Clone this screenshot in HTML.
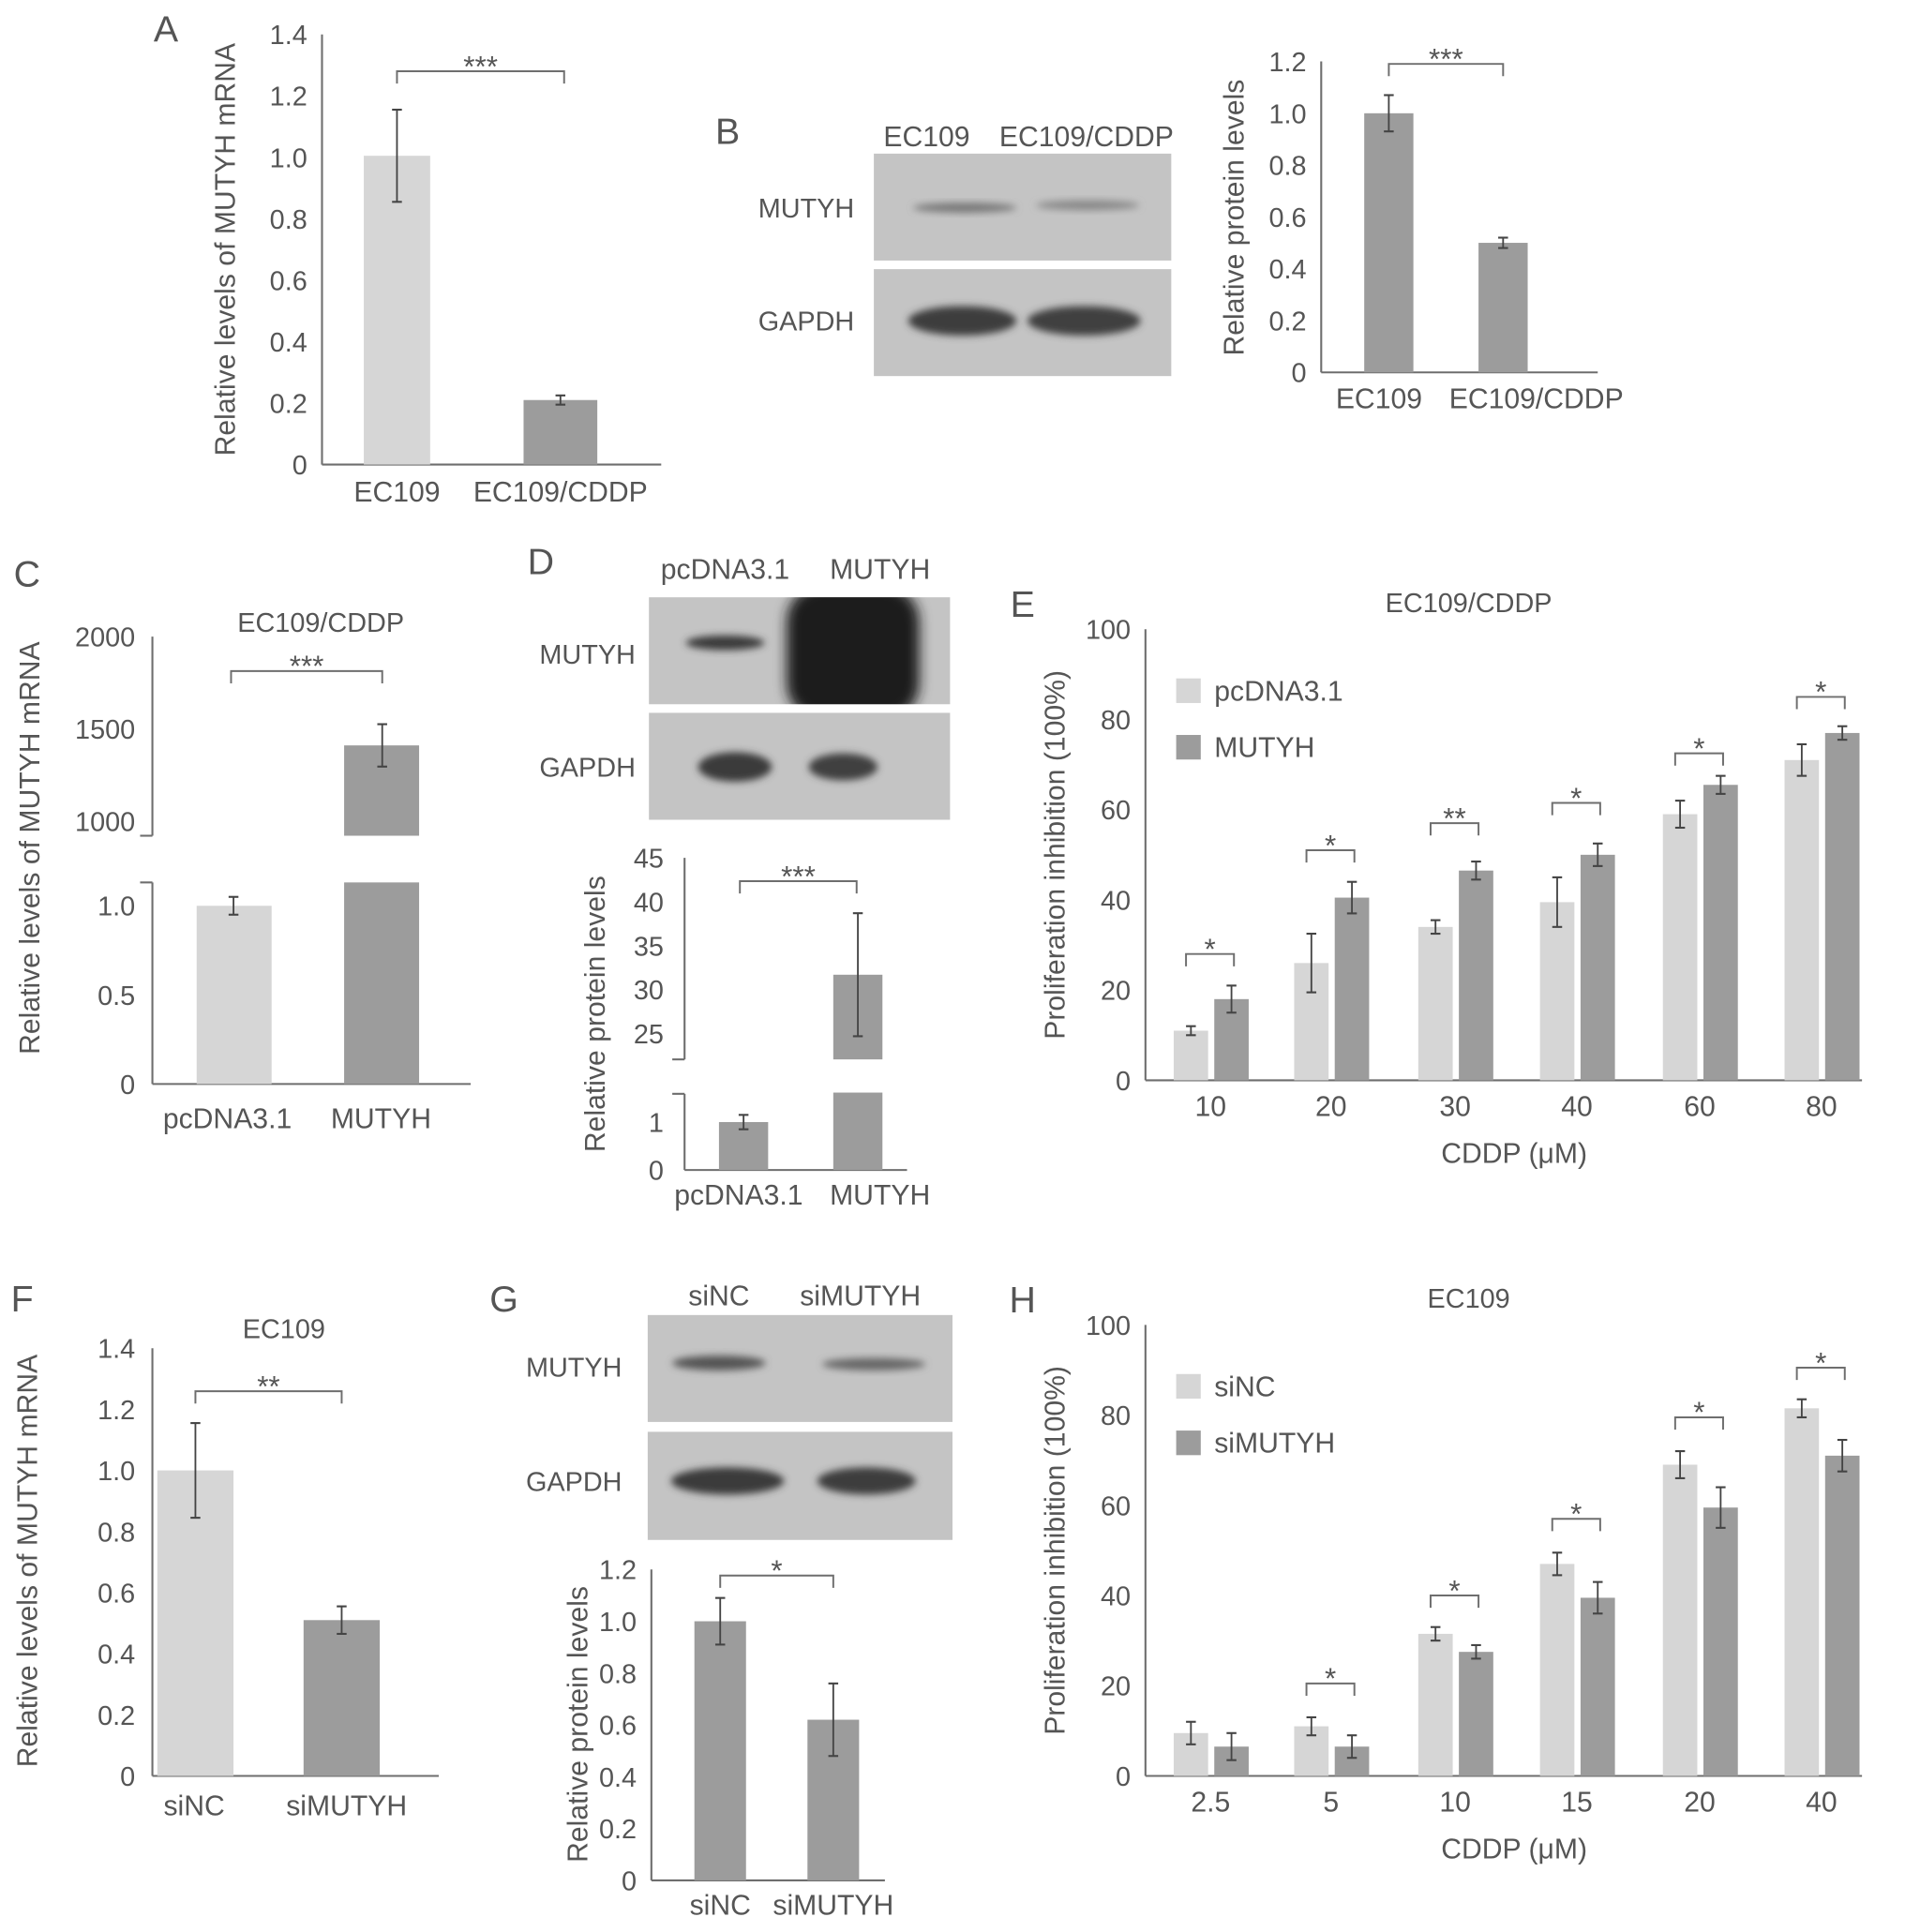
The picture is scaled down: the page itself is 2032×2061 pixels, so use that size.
<!DOCTYPE html>
<html><head><meta charset="utf-8"><style>
html,body{margin:0;padding:0;background:#fff;}
svg{display:block;}
text{font-family:"Liberation Sans",sans-serif;fill:#555;}
</style></head><body>
<svg id="fig" width="2032" height="2061" viewBox="0 0 1550 1572" preserveAspectRatio="none" xmlns="http://www.w3.org/2000/svg">
<defs>
<filter id="blur3" x="-20%" y="-50%" width="140%" height="200%"><feGaussianBlur stdDeviation="3"/></filter>
<filter id="blur6" x="-20%" y="-50%" width="140%" height="200%"><feGaussianBlur stdDeviation="5"/></filter>
<clipPath id="dclip"><rect x="528" y="486" width="245" height="87"/></clipPath>
</defs>
</svg>
<script>
// ---------- DATA ----------
const aCats=["EC109","EC109/CDDP"];
const aVals=[1.005,0.21];
const aErrs=[0.15,0.015];
const bCats=["EC109","EC109/CDDP"];
const bVals=[1.0,0.5];
const bErrs=[0.07,0.02];
const cCats=["pcDNA3.1","MUTYH"];
const cVals=[1.0,1410];
const cErrs=[0.05,115];
const dCats=["pcDNA3.1","MUTYH"];
const dVals=[1.0,31.7];
const dErrs=[0.15,7];
const eCats=["10","20","30","40","60","80"];
const eLight=[11,26,34,39.5,59,71];
const eLightErr=[1,6.5,1.5,5.5,3,3.5];
const eDark=[18,40.5,46.5,50,65.5,77];
const eDarkErr=[3,3.5,2,2.5,2,1.5];
const eSig=["*","*","**","*","*","*"];
const eSigLevel=[28,51,57,61.5,72.5,85];
const fCats=["siNC","siMUTYH"];
const fVals=[1.0,0.51];
const fErrs=[0.155,0.045];
const gCats=["siNC","siMUTYH"];
const gVals=[1.0,0.62];
const gErrs=[0.09,0.14];
const hCats=["2.5","5","10","15","20","40"];
const hLight=[9.5,11,31.5,47,69,81.5];
const hLightErr=[2.5,2,1.5,2.5,3,2];
const hDark=[6.5,6.5,27.5,39.5,59.5,71];
const hDarkErr=[3,2.5,1.5,3.5,4.5,3.5];
const hSig=["","*","*","*","*","*"];
const hSigLevel=[0,20.5,40,57,79.5,90.5];
const ticks14=[0,0.2,0.4,0.6,0.8,1.0,1.2,1.4];
const ticks12=[0,0.2,0.4,0.6,0.8,1.0,1.2];
const ticks100=[0,20,40,60,80,100];

// ---------- HELPERS ----------
const svg=document.getElementById('fig');
const NS='http://www.w3.org/2000/svg';
const LIGHT='#d6d6d6', DARK='#9c9c9c', AX='#6e6e6e';
function mk(tag,attrs,parent){const e=document.createElementNS(NS,tag);for(const k in attrs)e.setAttribute(k,attrs[k]);(parent||svg).appendChild(e);return e;}
function txt(x,y,s,size,anchor,parent,rot){const t=mk('text',{x:x,y:y,'font-size':size,'text-anchor':anchor||'middle'},parent);if(rot)t.setAttribute('transform','rotate(-90 '+x+' '+y+')');t.textContent=s;return t;}
function line(x1,y1,x2,y2,parent,w,c){return mk('line',{x1:x1,y1:y1,x2:x2,y2:y2,stroke:c||AX,'stroke-width':w||1.6},parent);}
function lin(d0,d1,r0,r1){return v=>r0+(v-d0)*(r1-r0)/(d1-d0);}
function errbar(x,yTop,yBot,g){const e=mk('g',{},g);
 line(x,yTop,x,yBot,e,1.4,'#444');line(x-4,yTop,x+4,yTop,e,1.6,'#444');line(x-4,yBot,x+4,yBot,e,1.6,'#444');return e;}
function bracket(x1,x2,y,label,g){const b=mk('g',{},g);
 mk('path',{d:'M'+x1+' '+(y+10)+'V'+y+'H'+x2+'V'+(y+10),fill:'none',stroke:AX,'stroke-width':1.5},b);
 txt((x1+x2)/2,y+4,label,24,'middle',b);return b;}
function group(name){const g=mk('g',{});return g;}

// ---------- PANEL A ----------
(function(){
 const g=group('panel-a');
 const y=lin(0,1.4,378,28);
 const lt=txt(135,34,'A',30,'middle',g);
 line(262,28,262,378,g);line(262,378,538,378,g);
 ticks14.forEach(v=>{const t=txt(250,y(v)+8,v===0?'0':v.toFixed(1),22,'end',g);});
 const xs=[323,456],w=[54,60],cols=[LIGHT,DARK];
 aVals.forEach((v,i)=>{const r=mk('rect',{x:xs[i]-w[i]/2,y:y(v),width:w[i],height:378-y(v),fill:cols[i]},g);
  
  errbar(xs[i],y(v+aErrs[i]),y(v-aErrs[i]),g);
  const t=txt(xs[i],408,aCats[i],23,'middle',g);});
 bracket(323,459,58,'***',g);
 const yt=txt(191,203,'Relative levels of MUTYH mRNA',23,'middle',g,true);
})();

// ---------- BLOT HELPER ----------
function blot(x,y,w,h,bands,g){const b=mk('g',{},g);
 mk('rect',{x:x,y:y,width:w,height:h,fill:'#c4c4c4'},b);
 bands.forEach(d=>mk('ellipse',{cx:d[0],cy:d[1],rx:d[2],ry:d[3],fill:d[4],filter:d[5]||'url(#blur3)'},b));
 return b;}

// ---------- PANEL B ----------
(function(){
 const g=group('panel-b');
 const l=txt(592,117,'B',30,'middle',g);
 let t=txt(754,119,'EC109',23,'middle',g);
 t=txt(884,119,'EC109/CDDP',23,'middle',g);
 t=txt(656,177,'MUTYH',22,'middle',g);
 t=txt(656,269,'GAPDH',22,'middle',g);
 let bl=blot(711,125,242,87,[[785,169,42,4,'#777'],[885,167,42,4,'#888']],g);
 bl=blot(711,219,242,87,[[783,261,44,12,'#3c3c3c'],[882,261,46,12,'#404040']],g);
 const y=lin(0,1.2,303,50);
 line(1075,50,1075,303,g);line(1075,303,1300,303,g);
 ticks12.forEach(v=>{const t=txt(1063,y(v)+8,v===0?'0':v.toFixed(1),22,'end',g);});
 const xs=[1130,1223];
 bVals.forEach((v,i)=>{const r=mk('rect',{x:xs[i]-20,y:y(v),width:40,height:303-y(v),fill:DARK},g);
  
  errbar(xs[i],y(v+bErrs[i]),y(v-bErrs[i]),g);});
 t=txt(1122,332,bCats[0],23,'middle',g);
 t=txt(1250,332,bCats[1],23,'middle',g);
 bracket(1130,1223,52,'***',g);
 t=txt(1012,177,'Relative protein levels',23,'middle',g,true);
})();

// ---------- PANEL C ----------
(function(){
 const g=group('panel-c');
 let t=txt(22,477,'C',30,'middle',g);
 t=txt(261,514,'EC109/CDDP',22,'middle',g);
 const yl=lin(0,1,882,737), yu=lin(1000,2000,668,518);
 line(124,518,124,680,g);line(124,718,124,882,g);line(124,882,383,882,g);
 line(114,680,124,680,g);line(114,718,124,718,g);
 [[2000,yu],[1500,yu],[1000,yu]].forEach(a=>{const t=txt(110,a[1](a[0])+8,String(a[0]),22,'end',g);});
 [0,0.5,1.0].forEach(v=>{const t=txt(110,yl(v)+8,v===0?'0':v.toFixed(1),22,'end',g);});
 let r=mk('rect',{x:160,y:yl(cVals[0]),width:61,height:882-yl(cVals[0]),fill:LIGHT},g);
 errbar(190,yl(cVals[0]+cErrs[0]),yl(cVals[0]-cErrs[0]),g);
 r=mk('rect',{x:280,y:718,width:61,height:164,fill:DARK},g);
 r=mk('rect',{x:280,y:yu(cVals[1]),width:61,height:680-yu(cVals[1]),fill:DARK},g);
 errbar(311,yu(cVals[1]+cErrs[1]),yu(cVals[1]-cErrs[1]),g);
 bracket(188,311,546,'***',g);
 t=txt(185,918,cCats[0],23,'middle',g);
 t=txt(310,918,cCats[1],23,'middle',g);
 t=txt(32,690,'Relative levels of MUTYH mRNA',23,'middle',g,true);
})();

// ---------- PANEL D ----------
(function(){
 const g=group('panel-d');
 let t=txt(440,467,'D',30,'middle',g);
 t=txt(590,471,'pcDNA3.1',23,'middle',g);
 t=txt(716,471,'MUTYH',23,'middle',g);
 t=txt(478,540,'MUTYH',22,'middle',g);
 t=txt(478,632,'GAPDH',22,'middle',g);
 let bl=blot(528,486,245,87,[[590,523,32,6,'#3a3a3a']],g);
 const blob=mk('g',{'clip-path':'url(#dclip)'},bl);
 mk('rect',{x:640,y:476,width:108,height:110,rx:30,fill:'#1c1c1c',filter:'url(#blur6)'},blob);
 bl=blot(528,580,245,87,[[598,624,30,12,'#3a3a3a'],[686,624,28,11,'#404040']],g);
 const yl=lin(0,1,952,913), yu=lin(25,45,841,698);
 line(557,698,557,862,g);line(557,890,557,952,g);line(557,952,738,952,g);
 line(547,862,557,862,g);line(547,890,557,890,g);
 [25,30,35,40,45].forEach(v=>{const t=txt(540,yu(v)+8,String(v),22,'end',g);});
 [0,1].forEach(v=>{const t=txt(540,yl(v)+8,String(v),22,'end',g);});
 let r=mk('rect',{x:585,y:yl(dVals[0]),width:40,height:952-yl(dVals[0]),fill:DARK},g);
 errbar(605,yl(dVals[0]+dErrs[0]),yl(dVals[0]-dErrs[0]),g);
 r=mk('rect',{x:678,y:889,width:40,height:63,fill:DARK},g);
 r=mk('rect',{x:678,y:yu(dVals[1]),width:40,height:862-yu(dVals[1]),fill:DARK},g);
 errbar(698,yu(dVals[1]+dErrs[1]),yu(dVals[1]-dErrs[1]),g);
 bracket(602,697,717,'***',g);
 t=txt(601,980,dCats[0],23,'middle',g);
 t=txt(716,980,dCats[1],23,'middle',g);
 t=txt(492,825,'Relative protein levels',23,'middle',g,true);
})();

// ---------- GROUPED CHART (E,H) ----------
function grouped(name,letter,top,bottom,title,cats,light,lightErr,dark,darkErr,sig,sigLevel,leg){
 const g=group(name);
 const y=lin(0,100,bottom,top);
 const cx=[985,1083,1184,1283,1383,1482];
 let t=txt(832,top-10,letter,30,'middle',g);
 t=txt(1195,top-14,title,22,'middle',g);
 line(932,top,932,bottom,g);line(932,bottom,1515,bottom,g);
 ticks100.forEach(v=>{const t=txt(920,y(v)+8,String(v),22,'end',g);});
 cats.forEach((c,i)=>{
  const r1=mk('rect',{x:cx[i]-30,y:y(light[i]),width:28,height:bottom-y(light[i]),fill:LIGHT},g);
  
  errbar(cx[i]-16,y(light[i]+lightErr[i]),y(light[i]-lightErr[i]),g);
  const r2=mk('rect',{x:cx[i]+3,y:y(dark[i]),width:28,height:bottom-y(dark[i]),fill:DARK},g);
  
  errbar(cx[i]+17,y(dark[i]+darkErr[i]),y(dark[i]-darkErr[i]),g);
  const tl=txt(cx[i],bottom+29,c,23,'middle',g);
  if(sig[i]){const b=bracket(cx[i]-20,cx[i]+19,y(sigLevel[i]),sig[i],g);}
 });
 const ly=top+40;
 let s=mk('rect',{x:957,y:ly,width:20,height:20,fill:LIGHT},g);
 t=txt(988,ly+18,leg[0],23,'start',g);
 s=mk('rect',{x:957,y:ly+46,width:20,height:20,fill:DARK},g);
 t=txt(988,ly+64,leg[1],23,'start',g);
 t=txt(1232,bottom+67,'CDDP (\u03bcM)',23,'middle',g);
 t=txt(866,(top+bottom)/2,'Proliferation inhibition (100%)',23,'middle',g,true);
}
grouped('panel-e','E',512,879,'EC109/CDDP',eCats,eLight,eLightErr,eDark,eDarkErr,eSig,eSigLevel,['pcDNA3.1','MUTYH']);
grouped('panel-h','H',1078,1445,'EC109',hCats,hLight,hLightErr,hDark,hDarkErr,hSig,hSigLevel,['siNC','siMUTYH']);

// ---------- PANEL F ----------
(function(){
 const g=group('panel-f');
 let t=txt(18,1067,'F',30,'middle',g);
 t=txt(231,1089,'EC109',22,'middle',g);
 const y=lin(0,1.4,1445,1097);
 line(124,1097,124,1445,g);line(124,1445,357,1445,g);
 ticks14.forEach(v=>{const t=txt(110,y(v)+8,v===0?'0':v.toFixed(1),22,'end',g);});
 const xs=[159,278],cols=[LIGHT,DARK];
 fVals.forEach((v,i)=>{const r=mk('rect',{x:xs[i]-31,y:y(v),width:62,height:1445-y(v),fill:cols[i]},g);
  
  errbar(xs[i],y(v+fErrs[i]),y(v-fErrs[i]),g);});
 t=txt(158,1477,fCats[0],23,'middle',g);
 t=txt(282,1477,fCats[1],23,'middle',g);
 bracket(159,278,1132,'**',g);
 t=txt(30,1270,'Relative levels of MUTYH mRNA',23,'middle',g,true);
})();

// ---------- PANEL G ----------
(function(){
 const g=group('panel-g');
 let t=txt(410,1067,'G',30,'middle',g);
 t=txt(585,1062,'siNC',23,'middle',g);
 t=txt(700,1062,'siMUTYH',23,'middle',g);
 t=txt(467,1120,'MUTYH',22,'middle',g);
 t=txt(467,1213,'GAPDH',22,'middle',g);
 let bl=blot(527,1070,248,87,[[585,1109,38,6,'#555'],[711,1110,42,5,'#666']],g);
 bl=blot(527,1165,248,88,[[592,1205,46,11,'#3a3a3a'],[705,1205,40,11,'#3c3c3c']],g);
 const y=lin(0,1.2,1530,1277);
 line(530,1277,530,1530,g);line(530,1530,720,1530,g);
 ticks12.forEach(v=>{const t=txt(518,y(v)+8,v===0?'0':v.toFixed(1),22,'end',g);});
 const xs=[586,678];
 gVals.forEach((v,i)=>{const r=mk('rect',{x:xs[i]-21,y:y(v),width:42,height:1530-y(v),fill:DARK},g);
  
  errbar(xs[i],y(v+gErrs[i]),y(v-gErrs[i]),g);
  const tl=txt(xs[i],1558,gCats[i],23,'middle',g);});
 bracket(586,678,1282,'*',g);
 t=txt(478,1403,'Relative protein levels',23,'middle',g,true);
})();
</script>
</body></html>
